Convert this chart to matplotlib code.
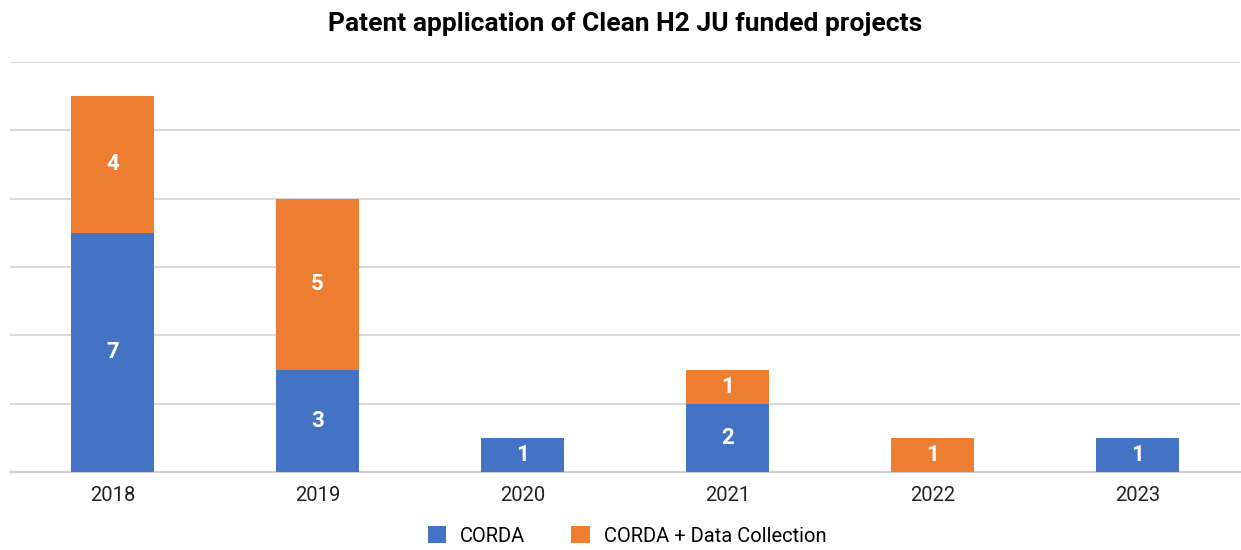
import matplotlib.pyplot as plt
import matplotlib as mpl
import numpy as np

mpl.rcParams.update({
    "font.family": ["Roboto", "DejaVu Sans"],
})

YEARS = ["2018", "2019", "2020", "2021", "2022", "2023"]
CORDA = [7, 3, 1, 2, 0, 1]
DATA_COLLECTION = [4, 5, 0, 1, 1, 0]

BLUE = "#4472C4"
ORANGE = "#ED7D31"

fig = plt.figure(figsize=(12.41, 5.5), dpi=100)
ax = fig.add_axes([10 / 1241, 78 / 550, 1230 / 1241, 410 / 550])

x = np.arange(len(YEARS))
corda = np.array(CORDA)
dc = np.array(DATA_COLLECTION)
width = 0.405

b1 = ax.bar(x, corda, width, color=BLUE, label="CORDA", zorder=3)
b2 = ax.bar(x, dc, width, bottom=corda, color=ORANGE,
            label="CORDA + Data Collection", zorder=3)

for i in range(len(x)):
    if corda[i] > 0:
        ax.text(x[i], corda[i] / 2, str(corda[i]), ha="center", va="center",
                color="white", fontsize=16, fontweight="bold", zorder=4)
    if dc[i] > 0:
        ax.text(x[i], corda[i] + dc[i] / 2, str(dc[i]), ha="center", va="center",
                color="white", fontsize=16, fontweight="bold", zorder=4)

ax.set_xlim(-0.5, len(YEARS) - 0.5)
ax.set_ylim(0, 12)
ax.set_yticks(np.arange(0, 13, 2))
ax.yaxis.grid(True, color="#D9D9D9", linewidth=1.5, zorder=0)
ax.tick_params(axis="y", left=False, labelleft=False)
ax.tick_params(axis="x", length=0, pad=10, labelsize=14.5, labelcolor="#222222")
ax.set_xticks(x)
ax.set_xticklabels(YEARS)
for s in ["top", "right", "left"]:
    ax.spines[s].set_visible(False)
ax.spines["bottom"].set_color("#D0D0D0")
ax.spines["bottom"].set_linewidth(1.5)

fig.suptitle("Patent application of Clean H2 JU funded projects",
             fontsize=19, fontweight="bold", y=0.978, x=625 / 1241)

fig.legend(handles=[b1, b2], loc="lower center", ncol=2, frameon=False,
           bbox_to_anchor=(627 / 1241, -0.025), fontsize=14.5,
           handlelength=0.9, handleheight=0.9, columnspacing=2.3,
           handletextpad=0.7)

fig.savefig("out.png", dpi=100)
